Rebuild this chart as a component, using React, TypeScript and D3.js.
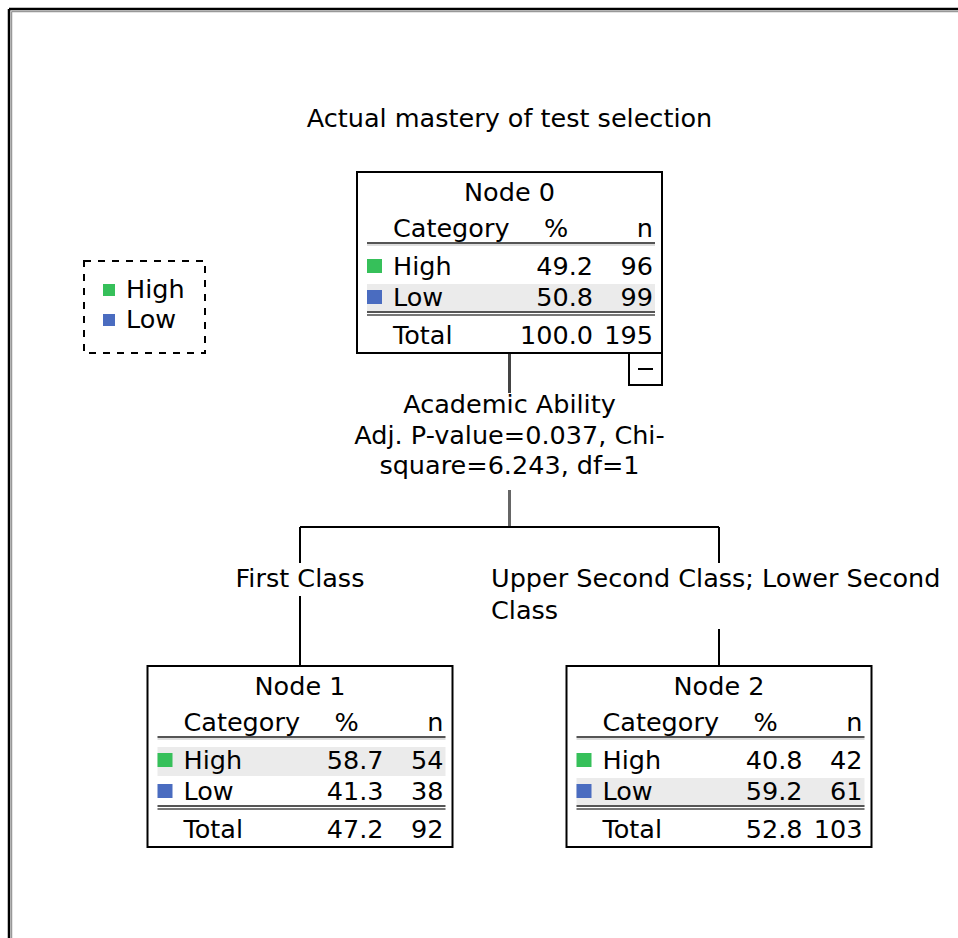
import React from "react";
import * as d3 from "d3";

const title = "Actual mastery of test selection";
const categories = ["High", "Low"];
const categoryColors = ["#36c05a", "#4a6cc0"];
const nodeIds = [0, 1, 2];
const nodeParents = [null, 0, 0];
const nodePercents = [
  [49.2, 50.8],
  [58.7, 41.3],
  [40.8, 59.2],
];
const nodeCounts = [
  [96, 99],
  [54, 38],
  [42, 61],
];
const nodeTotalPercent = ["100.0", "47.2", "52.8"];
const nodeTotalN = [195, 92, 103];
const splitVariable = "Academic Ability";
const splitStats = ["Adj. P-value=0.037, Chi-", "square=6.243, df=1"];
const branchLabels = [null, ["First Class"], ["Upper Second Class; Lower Second", "Class"]];

const W = 958;
const H = 938;
const FONT = "'DejaVu Sans', 'Liberation Sans', sans-serif";
const FS = 25.5;
const BOX_W = 305;
const BOX_H = 181;

export default function App() {
  const data = nodeIds.map((id) => ({ id, parent: nodeParents[id] }));
  const root = d3
    .stratify<{ id: number; parent: number | null }>()
    .id((d) => String(d.id))
    .parentId((d) => (d.parent === null ? null : String(d.parent)))(data);
  d3.tree().size([838, 494])(root as any);
  const nodes = root.descendants() as any[];
  const xOff = 90.5;
  const yOff = 172;
  const px = (n: any) => n.x + xOff;
  const py = (n: any) => n.y + yOff;
  const rootNode = nodes.find((n) => n.depth === 0);
  const children = nodes.filter((n) => n.depth === 1);
  const rx = px(rootNode);
  const hy = 527;

  const fmtPct = d3.format(".1f");

  const renderNode = (n: any) => {
    const id = +n.id;
    const cx = px(n);
    const left = cx - BOX_W / 2;
    const top = py(n);
    const pcts = nodePercents[id];
    const maxIdx = d3.maxIndex(pcts);
    const rowY = [top + 103, top + 134];
    return (
      <g key={id}>
        <rect x={left} y={top} width={BOX_W} height={BOX_H} fill="#fff" stroke="#000" strokeWidth={2} />
        <text x={cx} y={top + 29} textAnchor="middle" fontSize={FS}>{`Node ${id}`}</text>
        <text x={left + 36} y={top + 65} fontSize={FS}>Category</text>
        <text x={left + 199} y={top + 65} fontSize={FS} textAnchor="middle">%</text>
        <text x={left + 296} y={top + 65} fontSize={FS} textAnchor="end">n</text>
        <line x1={left + 10} x2={left + 298} y1={top + 71} y2={top + 71} stroke="#555" strokeWidth={2} />
        <line x1={left + 10} x2={left + 298} y1={top + 73} y2={top + 73} stroke="#bbb" strokeWidth={1} />
        <rect x={left + 10} y={rowY[maxIdx] - 22} width={288} height={29} fill="#ebebeb" />
        {categories.map((c, i) => (
          <g key={c}>
            <rect x={left + 10} y={rowY[i] - 16} width={15} height={14} fill={categoryColors[i]} />
            <text x={left + 36} y={rowY[i]} fontSize={FS}>{c}</text>
            <text x={left + 236} y={rowY[i]} fontSize={FS} textAnchor="end">{fmtPct(pcts[i])}</text>
            <text x={left + 296} y={rowY[i]} fontSize={FS} textAnchor="end">{nodeCounts[id][i]}</text>
          </g>
        ))}
        <line x1={left + 10} x2={left + 298} y1={top + 140} y2={top + 140} stroke="#555" strokeWidth={2} />
        <line x1={left + 10} x2={left + 298} y1={top + 143} y2={top + 143} stroke="#777" strokeWidth={2} />
        <text x={left + 36} y={top + 172} fontSize={FS}>Total</text>
        <text x={left + 236} y={top + 172} fontSize={FS} textAnchor="end">{nodeTotalPercent[id]}</text>
        <text x={left + 296} y={top + 172} fontSize={FS} textAnchor="end">{nodeTotalN[id]}</text>
      </g>
    );
  };

  const rootLeft = rx - BOX_W / 2;
  const rootBottom = py(rootNode) + BOX_H;

  return (
    <svg
      width={W}
      height={H}
      style={{ position: "absolute", left: 0, top: 0, background: "#fff" }}
      fontFamily={FONT}
      fill="#000"
    >
      <rect x={0} y={0} width={W} height={H} fill="#fff" />
      {/* outer frame */}
      <line x1={9} x2={W} y1={9} y2={9} stroke="#000" strokeWidth={2.5} />
      <line x1={9} x2={9} y1={9} y2={H} stroke="#000" strokeWidth={2.5} />
      <line x1={11.5} x2={W} y1={11.5} y2={11.5} stroke="#999" strokeWidth={1.5} />
      <line x1={11.5} x2={11.5} y1={11.5} y2={H} stroke="#999" strokeWidth={1.5} />

      <text x={rx} y={127} textAnchor="middle" fontSize={FS}>{title}</text>

      {/* legend */}
      <rect x={84} y={261} width={121} height={92} fill="none" stroke="#000" strokeWidth={2} strokeDasharray="7,7" />
      {categories.map((c, i) => (
        <g key={c}>
          <rect x={103} y={284 + i * 30} width={12} height={12} fill={categoryColors[i]} />
          <text x={126} y={298 + i * 30} fontSize={FS}>{c}</text>
        </g>
      ))}

      {/* edges */}
      <line x1={rx} x2={rx} y1={rootBottom} y2={393} stroke="#444" strokeWidth={3} />
      <text x={rx} y={413} textAnchor="middle" fontSize={FS}>{splitVariable}</text>
      {splitStats.map((s, i) => (
        <text key={i} x={rx} y={444 + i * 30} textAnchor="middle" fontSize={FS}>{s}</text>
      ))}
      <line x1={rx} x2={rx} y1={490} y2={hy} stroke="#666" strokeWidth={3} />
      <line
        x1={d3.min(children, (c: any) => px(c))}
        x2={d3.max(children, (c: any) => px(c))}
        y1={hy}
        y2={hy}
        stroke="#000"
        strokeWidth={2}
      />
      {children.map((c: any) => {
        const id = +c.id;
        const x = px(c);
        const lbl = branchLabels[id] as string[];
        const multi = lbl.length > 1;
        return (
          <g key={id}>
            <line x1={x} x2={x} y1={hy} y2={563} stroke="#000" strokeWidth={2} />
            {lbl.map((t, i) =>
              multi ? (
                <text key={i} x={491} y={587 + i * 32} fontSize={FS}>{t}</text>
              ) : (
                <text key={i} x={x} y={587} textAnchor="middle" fontSize={FS}>{t}</text>
              )
            )}
            <line x1={x} x2={x} y1={multi ? 629 : 596} y2={py(c)} stroke="#000" strokeWidth={2} />
          </g>
        );
      })}

      {nodes.map(renderNode)}

      {/* collapse box */}
      <rect x={rootLeft + BOX_W - 33} y={rootBottom} width={33} height={32} fill="#fff" stroke="#000" strokeWidth={2} />
      <line x1={rootLeft + BOX_W - 24} x2={rootLeft + BOX_W - 9} y1={rootBottom + 16} y2={rootBottom + 16} stroke="#000" strokeWidth={2} />
    </svg>
  );
}
